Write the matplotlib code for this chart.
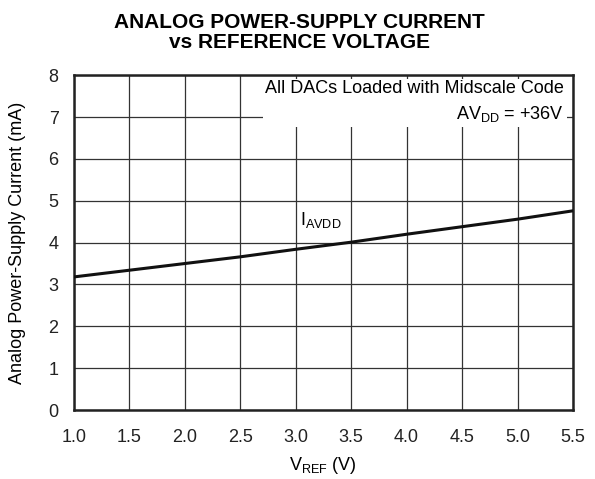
import matplotlib.pyplot as plt

plt.rcParams['font.family'] = ['Liberation Sans', 'DejaVu Sans']

# V_REF sweep (V) and analog supply current (mA)
VREF = [1.0, 1.5, 2.0, 2.5, 3.0, 3.5, 4.0, 4.5, 5.0, 5.5]
I_AVDD = [3.18, 3.34, 3.50, 3.66, 3.84, 4.01, 4.20, 4.38, 4.56, 4.76]

X_TICKS = [1.0, 1.5, 2.0, 2.5, 3.0, 3.5, 4.0, 4.5, 5.0, 5.5]
Y_TICKS = [0, 1, 2, 3, 4, 5, 6, 7, 8]

FS = 13

fig = plt.figure(figsize=(5.95, 4.79), dpi=100)
ax = fig.add_axes([0.124, 0.144, 0.839, 0.699])

ax.plot(VREF, I_AVDD, color='#111111', lw=2.2, zorder=3)

ax.set_xlim(1.0, 5.5)
ax.set_ylim(0, 8)
ax.set_xticks(X_TICKS)
ax.set_xticklabels([f'{v:.1f}' for v in X_TICKS])
ax.set_yticks(Y_TICKS)
ax.tick_params(length=0, labelsize=FS, colors='#222222')
ax.tick_params(axis='x', pad=14)
ax.tick_params(axis='y', pad=11)
ax.grid(True, color='#333333', lw=0.9)
for s in ax.spines.values():
    s.set_linewidth(1.8)
    s.set_color('#222222')

ax.set_xlabel(r'V$_{\mathregular{REF}}$ (V)', fontsize=FS, labelpad=6)
ax.set_ylabel('Analog Power-Supply Current (mA)', fontsize=FS, labelpad=16)

# condition box (blanks out the grid behind it)
ax.text(5.42, 7.88,
        'All DACs Loaded with Midscale Code\n' + r'AV$_{\mathregular{DD}}$ = +36V',
        ha='right', va='top', fontsize=FS, linespacing=1.45, zorder=2,
        bbox=dict(facecolor='white', edgecolor='none', pad=2))
ax.text(3.04, 4.55, r'I$_{\mathregular{AVDD}}$', ha='left', va='center',
        fontsize=FS, zorder=4)

fig.text(0.503, 0.972, 'ANALOG POWER-SUPPLY CURRENT\nvs REFERENCE VOLTAGE',
         ha='center', va='top', fontsize=15, fontweight='bold', linespacing=1.05)

fig.savefig('out.png', dpi=100)
